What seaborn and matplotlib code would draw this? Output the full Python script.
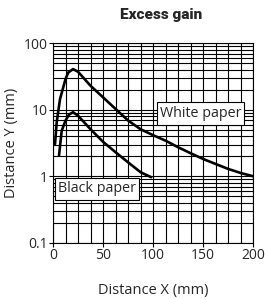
import matplotlib
matplotlib.use("Agg")
import matplotlib.pyplot as plt
from matplotlib.patches import Rectangle
import seaborn as sns
import numpy as np
import pandas as pd

white_x = [2, 3.7, 7, 12.5, 15.3, 20, 25, 37.5, 50, 62.5, 75, 87.5, 100, 112.5, 125, 137.5, 150, 162.5, 175, 187.5, 200]
white_y = [3.05, 6.5, 14.5, 29, 36.5, 41, 37.4, 23, 15.4, 10.3, 6.9, 5.1, 4.15, 3.43, 2.73, 2.22, 1.82, 1.53, 1.29, 1.12, 1.0]
black_x = [6, 8.7, 12.5, 16, 20, 25, 37.5, 50, 62.5, 75, 87.5, 98]
black_y = [2.05, 4.85, 6.9, 8.5, 9.2, 8.15, 5.1, 3.3, 2.3, 1.62, 1.15, 0.97]
x_ticks = [0, 50, 100, 150, 200]
y_ticks = [0.1, 1, 10, 100]
y_tick_labels = ["0.1", "1", "10", "100"]

sns.set_theme(style="white")
plt.rcParams['font.family'] = ['Open Sans', 'DejaVu Sans']

fig = plt.figure(figsize=(2.65, 2.99), dpi=100)
ax = fig.add_axes([0.2, 0.188, 0.756, 0.667])

df = pd.concat([
    pd.DataFrame({"x": white_x, "y": white_y, "s": "White paper"}),
    pd.DataFrame({"x": black_x, "y": black_y, "s": "Black paper"}),
])
sns.lineplot(data=df, x="x", y="y", units="s", estimator=None, color="black",
             linewidth=1.9, ax=ax, sort=False, zorder=3)

ax.set_yscale("log")
ax.set_xlim(0, 200)
ax.set_ylim(0.1, 100)
ax.set_xticks(x_ticks)
ax.set_xticks(np.arange(0, 201, 12.5), minor=True)
ax.set_yticks(y_ticks)
ax.set_yticklabels(y_tick_labels)
ax.grid(True, which="both", axis="both", color="black", linewidth=0.8)
ax.tick_params(axis="both", which="major", direction="out", length=3, width=0.8,
               color="black", labelsize=10, pad=1, left=True, bottom=True)
ax.tick_params(axis="both", which="minor", length=0)
for s in ax.spines.values():
    s.set_color("black")
    s.set_linewidth(0.8)

ax.set_xlabel("Distance X (mm)", fontsize=10.5, labelpad=14)
ax.set_ylabel("Distance Y (mm)", fontsize=10.5, labelpad=3)

# label boxes
ax.add_patch(Rectangle((104, 5.97), 87, 12.97 - 5.97, facecolor="white", edgecolor="black",
                       linewidth=0.8, zorder=4))
ax.text(147.5, 8.8, "White paper", fontsize=10.3, va="center", ha="center", zorder=5)
ax.add_patch(Rectangle((2.3, 0.445), 83.4, 0.933 - 0.445, facecolor="white", edgecolor="black",
                       linewidth=0.8, zorder=4))
ax.text(44, 0.645, "Black paper", fontsize=10.3, va="center", ha="center", zorder=5)

fig.text(0.607, 0.95, "Excess gain", fontsize=11, fontweight="heavy", ha="center", va="center",
         family=["Roboto", "DejaVu Sans"])

fig.savefig("out.png", dpi=100)
